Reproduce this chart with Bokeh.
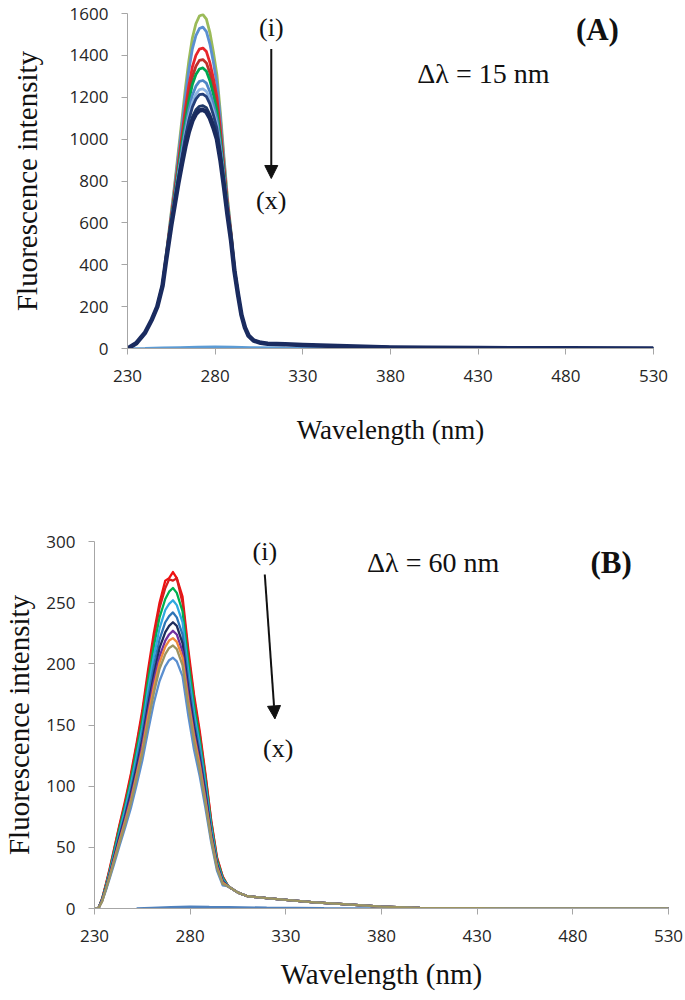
from bokeh.plotting import figure
from bokeh.models import Range1d, FixedTicker, Label, Arrow, NormalHead
from bokeh.embed import file_html
from bokeh.resources import INLINE

# ---------------- Panel A (delta lambda = 15 nm) ----------------
wl_a = [230, 235, 240, 244, 247, 250, 252, 255, 257, 259, 261, 263, 265, 267, 269, 271, 273, 275,
        277, 279, 281, 283, 285, 287, 289, 291, 293, 295, 297, 299, 302, 306, 310, 320, 330, 345,
        360, 380, 400, 430, 480, 530]

a_i = [0, 25, 75, 141, 202, 308, 443, 653, 791, 941, 1089, 1241, 1375, 1483, 1551, 1588, 1595, 1573,
       1509, 1415, 1307, 1124, 918, 721, 563, 386, 265, 161, 100, 62, 38, 27, 23, 20, 17, 13, 9, 5, 3, 2, 1, 0]
a_ii = [0, 25, 75, 141, 202, 307, 440, 645, 778, 921, 1062, 1204, 1330, 1431, 1494, 1528, 1535, 1514,
        1454, 1367, 1266, 1094, 899, 710, 557, 384, 265, 161, 100, 62, 38, 27, 23, 20, 17, 13, 9, 5, 3, 2, 1, 0]
a_iii = [0, 25, 75, 140, 202, 305, 435, 631, 756, 888, 1016, 1144, 1256, 1345, 1400, 1430, 1435, 1418,
         1365, 1289, 1199, 1045, 868, 692, 548, 380, 264, 161, 100, 62, 38, 27, 23, 20, 17, 13, 9, 5, 3, 2, 1, 0]
a_iv = [0, 25, 75, 140, 201, 304, 432, 623, 743, 870, 991, 1111, 1215, 1297, 1348, 1376, 1380, 1364,
        1316, 1246, 1162, 1018, 851, 683, 543, 378, 263, 161, 100, 62, 38, 27, 23, 20, 17, 13, 9, 5, 3, 2, 1, 0]
a_v = [0, 25, 75, 140, 201, 304, 430, 618, 734, 856, 972, 1086, 1184, 1261, 1309, 1335, 1340, 1324,
       1279, 1213, 1135, 998, 838, 675, 539, 377, 262, 161, 100, 62, 38, 27, 23, 20, 17, 13, 9, 5, 3, 2, 1, 0]
a_vi = [0, 25, 75, 140, 201, 303, 427, 609, 721, 837, 945, 1050, 1140, 1210, 1253, 1276, 1280, 1267,
        1226, 1166, 1095, 969, 819, 665, 533, 375, 262, 160, 100, 62, 38, 27, 23, 20, 17, 13, 9, 5, 3, 2, 1, 0]
a_vii = [0, 25, 75, 140, 201, 302, 425, 604, 712, 823, 926, 1026, 1110, 1175, 1215, 1237, 1240, 1228,
         1190, 1135, 1068, 949, 807, 658, 530, 373, 261, 160, 100, 62, 38, 27, 23, 20, 17, 13, 9, 5, 3, 2, 1, 0]
a_viii = [0, 25, 75, 140, 200, 301, 424, 600, 707, 815, 915, 1011, 1091, 1153, 1191, 1212, 1215, 1203,
          1168, 1115, 1051, 937, 799, 653, 527, 373, 261, 160, 100, 62, 38, 27, 23, 20, 17, 13, 9, 5, 3, 2, 1, 0]
a_ix = [0, 25, 75, 140, 200, 300, 421, 593, 695, 797, 890, 978, 1050, 1106, 1140, 1157, 1160, 1150,
        1118, 1071, 1014, 910, 781, 644, 522, 371, 260, 160, 100, 62, 38, 27, 23, 20, 17, 13, 9, 5, 3, 2, 1, 0]
a_x = [0, 25, 75, 140, 200, 300, 420, 590, 690, 790, 880, 965, 1035, 1088, 1120, 1137, 1140, 1130,
       1100, 1055, 1000, 900, 775, 640, 520, 370, 260, 160, 100, 62, 38, 27, 23, 20, 17, 13, 9, 5, 3, 2, 1, 0]

wl_blank_a = [230, 240, 250, 260, 270, 280, 290, 300, 320, 350, 400, 450, 530]
blank_a = [0, 1, 3, 5, 7, 8, 7, 5, 3, 2, 1, 0, 0]

colors_a = ["#9BBB59", "#5B8FD0", "#E8262B", "#C0312B", "#00A64F", "#4F86C6", "#8DB4E2",
            "#243F7A", "#1F3868", "#1A2B5F"]
widths_a = [2.8, 2.8, 2.8, 2.8, 2.8, 2.8, 2.8, 2.8, 2.8, 4.5]

# ---------------- Panel B (delta lambda = 60 nm) ----------------
wl_b = [230, 232, 234, 236, 238, 240, 243, 246, 249, 252, 255, 258, 261, 264, 267, 269, 271, 273,
        276, 279, 282, 285, 288, 291, 294, 297, 300, 305, 310, 320, 330, 345, 360, 380, 400, 430, 480, 530]

b_i = [0, 0, 8, 20, 33, 47, 68, 88, 110, 135, 162, 195, 225, 250, 268, 270, 275, 270, 255, 212, 175,
       145, 110, 72, 42, 26, 18, 13, 10, 8.5, 7, 5, 3.5, 1.6, 0.5, 0.2, 0, 0]
b_ii = [0, 0, 8, 20, 32, 46, 67, 86, 108, 133, 159, 191, 221, 246, 262, 269, 268, 270, 250, 208, 172,
        142, 108, 71, 41, 26, 18, 13, 10, 8.5, 7, 5, 3.5, 1.6, 0.5, 0.2, 0, 0]
b_iii = [0, 0, 8, 19, 31, 45, 65, 84, 105, 129, 154, 186, 214, 238, 253, 259, 262, 258, 243, 202, 167,
         138, 105, 69, 40, 25, 18, 13, 10, 8.5, 7, 5, 3.5, 1.6, 0.5, 0.2, 0, 0]
b_iv = [0, 0, 7, 18, 30, 43, 62, 81, 101, 124, 148, 179, 206, 229, 244, 249, 252, 248, 234, 194, 160,
        133, 101, 66, 38, 24, 18, 13, 10, 8.5, 7, 5, 3.5, 1.6, 0.5, 0.2, 0, 0]
b_v = [0, 0, 7, 18, 29, 41, 60, 77, 97, 119, 143, 172, 198, 220, 234, 239, 242, 238, 224, 187, 154,
       128, 97, 63, 37, 23, 18, 13, 10, 8.5, 7, 5, 3.5, 1.6, 0.5, 0.2, 0, 0]
b_vi = [0, 0, 7, 17, 28, 40, 58, 75, 94, 115, 138, 166, 191, 213, 226, 231, 234, 231, 217, 180, 149,
        123, 94, 61, 36, 22, 18, 13, 10, 8.5, 7, 5, 3.5, 1.6, 0.5, 0.2, 0, 0]
b_vii = [0, 0, 7, 16, 27, 39, 56, 73, 91, 111, 134, 161, 186, 206, 219, 224, 227, 224, 210, 175, 144,
         120, 91, 59, 35, 21, 18, 13, 10, 8.5, 7, 5, 3.5, 1.6, 0.5, 0.2, 0, 0]
b_viii = [0, 0, 6, 16, 27, 38, 55, 71, 88, 109, 130, 157, 181, 201, 214, 219, 221, 218, 205, 170, 141,
          117, 88, 58, 34, 21, 18, 13, 10, 8.5, 7, 5, 3.5, 1.6, 0.5, 0.2, 0, 0]
b_ix = [0, 0, 6, 15, 25, 35, 51, 66, 82, 101, 121, 145, 168, 186, 198, 203, 205, 202, 190, 158, 130,
        108, 82, 54, 31, 19, 18, 13, 10, 8.5, 7, 5, 3.5, 1.6, 0.5, 0.2, 0, 0]
b_x = [0, 0, 6, 16, 26, 37, 53, 69, 86, 106, 127, 152, 176, 196, 208, 213, 215, 212, 199, 166, 137,
       113, 86, 56, 33, 20, 18, 13, 10, 8.5, 7, 5, 3.5, 1.6, 0.5, 0.2, 0, 0]

wl_blank_b = [252, 260, 270, 280, 290, 300, 320, 350, 400, 450, 530]
blank_b = [0, 0.5, 1, 1.5, 1.2, 1, 0.6, 0.3, 0.1, 0, 0]

colors_b = ["#F01010", "#D81E1E", "#00B050", "#2FA8E0", "#2E75B6", "#1F2D5C", "#7030A0",
            "#F08A3C", "#5B8FD0", "#9C9461"]

x_ticks = [230, 280, 330, 380, 430, 480, 530]
y_ticks_a = [0, 200, 400, 600, 800, 1000, 1200, 1400, 1600]
y_ticks_b = [0, 50, 100, 150, 200, 250, 300]

SERIF = "Liberation Serif"
SANS = "Open Sans"


def style(p, xfont, yfont, ylab_standoff, xlab_standoff):
    p.xgrid.grid_line_color = None
    p.ygrid.grid_line_color = None
    p.outline_line_color = None
    for ax in (p.xaxis[0], p.yaxis[0]):
        ax.axis_line_color = "#A6A6A6"
        ax.major_tick_line_color = "#A6A6A6"
        ax.minor_tick_line_color = None
        ax.major_tick_in = 0
        ax.major_tick_out = 6
        ax.major_label_text_font = SANS
        ax.major_label_text_font_size = "17px"
        ax.major_label_text_color = "#262626"
        ax.axis_label_text_font = SERIF
        ax.axis_label_text_font_style = "normal"
        ax.axis_label_text_color = "#111111"
    p.xaxis[0].axis_label = "Wavelength (nm)"
    p.xaxis[0].axis_label_text_font_size = xfont
    p.xaxis[0].major_label_standoff = 15
    p.xaxis[0].axis_label_standoff = xlab_standoff
    p.yaxis[0].axis_label = "Fluorescence intensity"
    p.yaxis[0].axis_label_text_font_size = yfont
    p.yaxis[0].major_label_standoff = 13
    p.yaxis[0].axis_label_standoff = ylab_standoff


def note(p, x, y, text, size, bold=False):
    p.add_layout(Label(x=x, y=y, text=text, text_font=SERIF, text_font_size=size,
                       text_font_style="bold" if bold else "normal",
                       text_align="center", text_baseline="middle", text_color="#111111"))


# ---------- figure A ----------
pa = figure(width=683, height=468, x_range=Range1d(230, 530), y_range=Range1d(0, 1600),
            output_backend="svg", toolbar_location=None,
            min_border_left=127, min_border_right=30, min_border_top=13, min_border_bottom=120)
pa.xaxis.ticker = FixedTicker(ticks=x_ticks)
pa.yaxis.ticker = FixedTicker(ticks=y_ticks_a)
style(pa, "27px", "29px", 24, 30)

pa.line(wl_blank_a, blank_a, line_color="#5B9BD5", line_width=2.5)
series_a = [a_i, a_ii, a_iii, a_iv, a_v, a_vi, a_vii, a_viii, a_ix, a_x]
for ys, c, w in zip(series_a, colors_a, widths_a):
    pa.line(wl_a, ys, line_color=c, line_width=w, line_join="round")

note(pa, 312, 1535, "(i)", "26px")
note(pa, 312, 705, "(x)", "26px")
pa.add_layout(Arrow(end=NormalHead(size=13, fill_color="#111111", line_color="#111111"),
                    x_start=312, y_start=1430, x_end=312, y_end=812,
                    line_color="#111111", line_width=2))
note(pa, 498, 1522, "(A)", "31px", bold=True)
note(pa, 433, 1313, "Δλ = 15 nm", "28px")

# ---------- figure B ----------
pb = figure(width=683, height=528, x_range=Range1d(230, 530), y_range=Range1d(0, 300),
            output_backend="svg", toolbar_location=None,
            min_border_left=92, min_border_right=15, min_border_top=73, min_border_bottom=88)
pb.xaxis.ticker = FixedTicker(ticks=x_ticks)
pb.yaxis.ticker = FixedTicker(ticks=y_ticks_b)
style(pb, "29px", "29px", 8, 13)

pb.line(wl_blank_b, blank_b, line_color="#4F81BD", line_width=2.5)
series_b = [b_i, b_ii, b_iii, b_iv, b_v, b_vi, b_vii, b_viii, b_ix, b_x]
for ys, c in zip(series_b, colors_b):
    pb.line(wl_b, ys, line_color=c, line_width=2.3, line_join="round")

note(pb, 319, 292, "(i)", "26px")
note(pb, 326, 131, "(x)", "26px")
pb.add_layout(Arrow(end=NormalHead(size=13, fill_color="#111111", line_color="#111111"),
                    x_start=319, y_start=273, x_end=324.3, y_end=155,
                    line_color="#111111", line_width=2))
note(pb, 407, 283, "Δλ = 60 nm", "28px")
note(pb, 500, 283, "(B)", "31px", bold=True)

open("out.html", "w").write(file_html([pa, pb], INLINE))
